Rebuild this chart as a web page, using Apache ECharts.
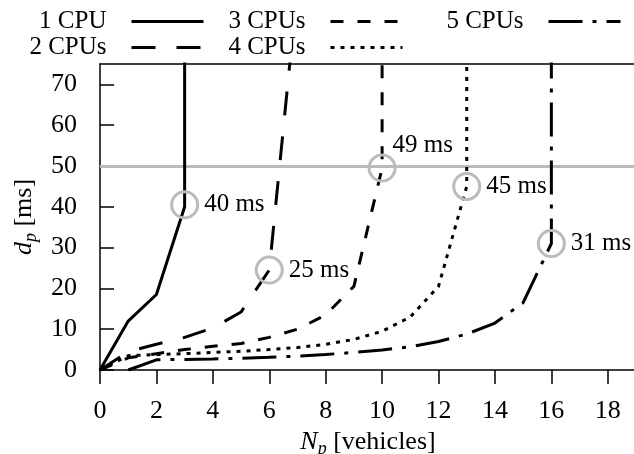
<!DOCTYPE html>
<html>
<head>
<meta charset="utf-8">
<script src="https://cdn.jsdelivr.net/npm/echarts@6/dist/echarts.min.js"></script>
<style>html,body{margin:0;padding:0;background:#fff}#c{width:634px;height:454px}</style>
</head>
<body>
<div id="c"></div>
<script>
const seriesNames = ['1 CPU', '2 CPUs', '3 CPUs', '4 CPUs', '5 CPUs'];
const cpu1 = [[0,0],[1,12],[2,18.5],[3,40],[3,100]];
const cpu2 = [[0,0],[1,4.5],[2,6.3],[3,8],[4,10.3],[5,14.2],[6,24.5],[7,94]];
const cpu3 = [[0,0],[1,3],[2,4],[3,5],[4,5.8],[5,6.5],[6,8],[7,10],[8,13.5],[9,20.5],[10,49.5],[10,100]];
const cpu4 = [[0,0],[1,3.5],[2,3.8],[3,4],[4,4.3],[5,4.6],[6,5],[7,5.5],[8,6.3],[9,7.5],[10,9.5],[11,13],[12,20.5],[13,45],[13,100]];
const cpu5 = [[1,0],[2,2.5],[3,2.6],[4,2.7],[5,2.9],[6,3.1],[7,3.4],[8,3.8],[9,4.3],[10,4.9],[11,5.7],[12,7],[13,8.8],[14,11.5],[15,16.5],[16,31],[16,100]];
const markers = [[3,40.5,'40 ms'],[6,24.5,'25 ms'],[10,49.5,'49 ms'],[13,45,'45 ms'],[16,31,'31 ms']];
const deadline = 50;
const xTicks = {min: 0, max: 19, interval: 2};
const yTicks = {min: 0, max: 75, interval: 10};

const FONT = '"Liberation Serif", "Times New Roman", serif';
const dashes = ['solid', [24, 21], [13, 14], [4, 6], [34, 10, 4, 10]];
const allData = [cpu1, cpu2, cpu3, cpu4, cpu5];

const lineSeries = allData.map((d, i) => ({
  name: seriesNames[i],
  type: 'line',
  data: d,
  symbol: 'none',
  z: 3,
  lineStyle: {color: '#000', width: 3, type: dashes[i], cap: 'butt'},
  itemStyle: {color: '#000'},
  animation: false
}));
lineSeries[0].markLine = {
  silent: true, symbol: 'none', z: 1,
  label: {show: false},
  lineStyle: {color: '#bbbbbb', width: 3, type: 'solid'},
  data: [{yAxis: deadline}],
  animation: false
};

const markerSeries = {
  type: 'scatter',
  z: 5,
  symbol: 'circle',
  symbolSize: 26,
  itemStyle: {color: 'rgba(255,255,255,0)', borderColor: '#bbbbbb', borderWidth: 3, opacity: 1},
  label: {show: true, position: 'right', distance: 5, color: '#000', opacity: 1,
          textBorderWidth: 0, fontFamily: FONT, fontSize: 25, formatter: p => p.data.value[2]},
  emphasis: {disabled: true},
  data: markers.map(m => {
    const item = {value: m};
    if (m[2] === '49 ms') item.label = {position: [25, -21]};
    return item;
  }),
  animation: false
};

const legendBase = {
  orient: 'vertical', align: 'right', top: 9, padding: 0,
  itemWidth: 72, itemHeight: 14, itemGap: 1,
  itemStyle: {color: 'rgba(0,0,0,0)', borderWidth: 0, opacity: 0},
  lineStyle: {width: 3, color: '#000'},
  textStyle: {fontFamily: FONT, fontSize: 25, color: '#000', lineHeight: 22, padding: [0, 20, 0, 0]},
  selectedMode: false
};

const rich = {
  it: {fontFamily: FONT, fontSize: 26, fontStyle: 'italic', color: '#000', verticalAlign: 'top', lineHeight: 26},
  sub: {fontFamily: FONT, fontSize: 18, fontStyle: 'italic', color: '#000', verticalAlign: 'top', padding: [11, 0, 0, 0], lineHeight: 18},
  n: {fontFamily: FONT, fontSize: 26, color: '#000', verticalAlign: 'top', lineHeight: 26}
};

const chart = echarts.init(document.getElementById('c'), null, {renderer: 'canvas'});
chart.setOption({
  animation: false,
  backgroundColor: '#fff',
  grid: {left: 100, top: 64, width: 536, height: 306, containLabel: false, outerBoundsMode: 'none'},
  legend: [
    Object.assign({}, legendBase, {data: ['1 CPU', '2 CPUs'], right: 429}),
    Object.assign({}, legendBase, {data: ['3 CPUs', '4 CPUs'], right: 230}),
    Object.assign({}, legendBase, {data: ['5 CPUs'], right: 12})
  ],
  xAxis: [{
    type: 'value', min: xTicks.min, max: xTicks.max, interval: xTicks.interval,
    name: '{it|N}{sub|p}{n| [vehicles]}',
    nameLocation: 'middle', nameGap: 55,
    nameTextStyle: {rich: rich},
    axisLine: {show: true, lineStyle: {color: '#000', width: 1.5}},
    axisTick: {show: true, inside: false, length: 14, lineStyle: {color: '#000', width: 1.5}},
    axisLabel: {show: true, margin: 28, color: '#000', fontFamily: FONT, fontSize: 26, showMaxLabel: false,
                formatter: v => (v % 2 === 0 ? String(v) : '')},
    splitLine: {show: false}
  }, {
    type: 'value', position: 'top', min: xTicks.min, max: xTicks.max,
    axisLine: {show: true, onZero: false, lineStyle: {color: '#000', width: 1.5}},
    axisTick: {show: false}, axisLabel: {show: false}, splitLine: {show: false}
  }],
  yAxis: {
    type: 'value', min: yTicks.min, max: yTicks.max, interval: yTicks.interval,
    name: '{it|d}{sub|p}{n| [ms]}',
    nameLocation: 'middle', nameGap: 60, nameRotate: 90,
    nameTextStyle: {rich: rich},
    axisLine: {show: true, lineStyle: {color: '#000', width: 1.5}},
    axisTick: {show: true, inside: true, length: 14, lineStyle: {color: '#000', width: 1.5}},
    axisLabel: {show: true, margin: 23, color: '#000', fontFamily: FONT, fontSize: 26, showMaxLabel: false,
                formatter: v => (v % 10 === 0 ? String(v) : '')},
    splitLine: {show: false}
  },
  series: lineSeries.concat([markerSeries])
});
</script>
</body>
</html>
